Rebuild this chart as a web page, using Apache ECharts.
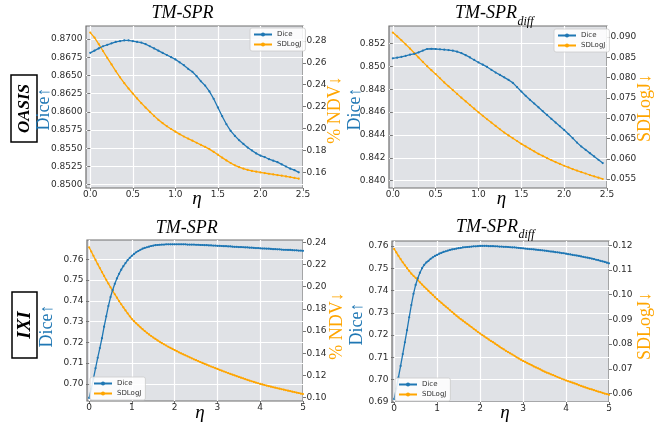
<!DOCTYPE html>
<html><head><meta charset="utf-8">
<script src="https://cdn.jsdelivr.net/npm/echarts@6/dist/echarts.min.js"></script>
<style>html,body{margin:0;padding:0;background:#fff}#c{width:655px;height:428px}</style>
</head><body><div id="c"></div>
<script>
const etaTop = [0,0.05,0.1,0.15,0.2,0.25,0.3,0.35,0.4,0.45,0.5,0.55,0.6,0.65,0.7,0.75,0.8,0.85,0.9,0.95,1,1.05,1.1,1.15,1.2,1.25,1.3,1.35,1.4,1.45,1.5,1.55,1.6,1.65,1.7,1.75,1.8,1.85,1.9,1.95,2,2.05,2.1,2.15,2.2,2.25,2.3,2.35,2.4,2.45];
const etaBot = [0,0.05,0.1,0.15,0.2,0.25,0.3,0.35,0.4,0.45,0.5,0.55,0.6,0.65,0.7,0.75,0.8,0.85,0.9,0.95,1,1.05,1.1,1.15,1.2,1.25,1.3,1.35,1.4,1.45,1.5,1.55,1.6,1.65,1.7,1.75,1.8,1.85,1.9,1.95,2,2.05,2.1,2.15,2.2,2.25,2.3,2.35,2.4,2.45,2.5,2.55,2.6,2.65,2.7,2.75,2.8,2.85,2.9,2.95,3,3.05,3.1,3.15,3.2,3.25,3.3,3.35,3.4,3.45,3.5,3.55,3.6,3.65,3.7,3.75,3.8,3.85,3.9,3.95,4,4.05,4.1,4.15,4.2,4.25,4.3,4.35,4.4,4.45,4.5,4.55,4.6,4.65,4.7,4.75,4.8,4.85,4.9,4.95,5];

const diceOasisSpr = [.8681,.8684,.8687,.8690,.8692,.8694,.8696,.8697,.8698,.8698,
.8697,.8696,.8695,.8693,.8690,.8687,.8684,.8681,.8678,.8675,
.8672,.8668,.8664,.8659,.8655,.8649,.8642,.8636,.8628,.8618,
.8606,.8594,.8583,.8574,.8567,.8561,.8556,.8551,.8547,.8543,
.8540,.8538,.8535,.8533,.8531,.8528,.8525,.8522,.8520,.8517];
const ndvOasisSpr = [.2876,.2830,.2770,.2708,.2646,.2585,.2525,.2468,.2414,.2366,
.2320,.2275,.2232,.2192,.2153,.2116,.2080,.2050,.2022,.1996,
.1972,.1949,.1928,.1909,.1890,.1871,.1852,.1833,.1813,.1788,
.1762,.1735,.1710,.1686,.1665,.1648,.1634,.1623,.1614,.1607,
.1600,.1594,.1588,.1582,.1576,.1570,.1564,.1557,.1550,.1543];
const diceOasisDiff = [.85070,.85076,.85083,.85092,.85102,.85110,.85122,.85138,.85152,.85154,
.85152,.85149,.85146,.85142,.85137,.85128,.85116,.85098,.85078,.85056,
.85034,.85015,.84995,.84970,.84946,.84925,.84904,.84882,.84856,.84818,
.84780,.84743,.84708,.84675,.84642,.84608,.84575,.84541,.84508,.84476,
.84444,.84408,.84372,.84333,.84299,.84270,.84241,.84212,.84183,.84154];
const sdlogjOasisDiff = [.09108,.09015,.08919,.08818,.08715,.08605,.08494,.08387,.08281,.08182,
.08085,.07983,.07881,.07786,.07692,.07598,.07504,.07414,.07324,.07234,
.07145,.07059,.06973,.06891,.06809,.06727,.06645,.06576,.06507,.06437,
.06367,.06306,.06245,.06183,.06122,.06070,.06017,.05968,.05919,.05874,
.05828,.05788,.05747,.05710,.05673,.05637,.05600,.05567,.05534,.05502];
const diceIxiSpr = [.6932,.6975,.7025,.7075,.7125,.7172,.7220,.7275,.7325,.7375,
.7418,.7452,.7482,.7508,.7530,.7550,.7567,.7582,.7596,.7607,
.7617,.7626,.7634,.7640,.7646,.7651,.7655,.7658,.7661,.7664,
.7666,.7668,.7669,.7670,.7671,.7671,.7672,.7672,.7672,.7672,
.7672,.7672,.7672,.7672,.7672,.7672,.7671,.7671,.7671,.7671,
.7670,.7670,.7669,.7669,.7668,.7668,.7667,.7667,.7666,.7666,
.7665,.7665,.7664,.7663,.7663,.7662,.7662,.7661,.7660,.7660,
.7659,.7659,.7658,.7657,.7657,.7656,.7656,.7655,.7654,.7654,
.7653,.7652,.7652,.7651,.7651,.7650,.7649,.7649,.7648,.7648,
.7647,.7646,.7646,.7645,.7645,.7644,.7643,.7643,.7642,.7642,
.7641];
const ndvIxiSpr = [.2355,.2317,.2279,.2241,.2204,.2168,.2132,.2097,.2062,.2028,
.1995,.1963,.1932,.1901,.1871,.1842,.1814,.1786,.1760,.1734,
.1709,.1689,.1670,.1652,.1634,.1617,.1601,.1585,.1570,.1556,
.1542,.1529,.1516,.1504,.1492,.1481,.1470,.1459,.1449,.1439,
.1429,.1419,.1409,.1400,.1391,.1382,.1373,.1364,.1355,.1346,
.1338,.1330,.1321,.1313,.1305,.1297,.1289,.1281,.1274,.1266,
.1259,.1251,.1244,.1236,.1229,.1222,.1215,.1208,.1201,.1194,
.1187,.1180,.1174,.1167,.1161,.1154,.1148,.1142,.1136,.1130,
.1124,.1119,.1114,.1109,.1104,.1099,.1094,.1090,.1085,.1081,
.1076,.1072,.1067,.1063,.1059,.1054,.1050,.1046,.1042,.1037,
.1033];
const diceIxiDiff = [.6913,.6960,.7010,.7062,.7115,.7168,.7222,.7280,.7335,.7385,
.7425,.7455,.7480,.7500,.7515,.7526,.7533,.7542,.7549,.7555,
.7560,.7565,.7569,.7573,.7576,.7579,.7582,.7584,.7586,.7588,
.7590,.7591,.7593,.7594,.7595,.7596,.7597,.7598,.7598,.7599,
.7600,.7600,.7600,.7600,.7599,.7599,.7599,.7598,.7598,.7597,
.7597,.7596,.7596,.7595,.7594,.7593,.7593,.7592,.7591,.7590,
.7589,.7588,.7587,.7586,.7585,.7584,.7583,.7582,.7581,.7580,
.7579,.7578,.7576,.7575,.7574,.7572,.7571,.7570,.7568,.7567,
.7565,.7563,.7562,.7560,.7558,.7557,.7555,.7553,.7551,.7549,
.7547,.7545,.7543,.7541,.7538,.7536,.7533,.7531,.7528,.7525,
.7522];
const sdlogjIxiDiff = [.1185,.1171,.1157,.1144,.1131,.1119,.1107,.1096,.1085,.1076,
.1068,.1059,.1050,.1041,.1032,.1024,.1015,.1007,.0999,.0990,
.0982,.0974,.0967,.0959,.0952,.0945,.0937,.0930,.0922,.0915,
.0908,.0901,.0895,.0888,.0882,.0875,.0869,.0862,.0856,.0849,
.0843,.0837,.0831,.0825,.0819,.0813,.0808,.0802,.0796,.0790,
.0784,.0779,.0773,.0768,.0763,.0758,.0753,.0747,.0742,.0737,
.0732,.0728,.0723,.0719,.0715,.0710,.0706,.0702,.0698,.0693,
.0689,.0685,.0682,.0678,.0675,.0671,.0667,.0664,.0660,.0657,
.0653,.0650,.0647,.0644,.0641,.0638,.0634,.0631,.0628,.0625,
.0622,.0619,.0617,.0614,.0611,.0608,.0606,.0603,.0600,.0598,
.0595];

// tick labels
const xTicksTop = [0,0.5,1,1.5,2,2.5];
const xTicksBot = [0,1,2,3,4,5];
const yTicksL1 = [0.85,0.8525,0.855,0.8575,0.86,0.8625,0.865,0.8675,0.87];
const yTicksR1 = [0.16,0.18,0.20,0.22,0.24,0.26,0.28];
const yTicksL2 = [0.840,0.842,0.844,0.846,0.848,0.850,0.852];
const yTicksR2 = [0.055,0.060,0.065,0.070,0.075,0.080,0.085,0.090];
const yTicksL3 = [0.70,0.71,0.72,0.73,0.74,0.75,0.76];
const yTicksR3 = [0.10,0.12,0.14,0.16,0.18,0.20,0.22,0.24];
const yTicksL4 = [0.69,0.70,0.71,0.72,0.73,0.74,0.75,0.76];
const yTicksR4 = [0.06,0.07,0.08,0.09,0.10,0.11,0.12];

const BLUE = '#1f77b4', ORANGE = '#ffa500';
const SERIF = 'Liberation Serif', SANS = 'DejaVu Sans';

const grids = [
  {left:86, top:26, width:217, height:162},
  {left:389, top:26, width:218, height:162},
  {left:87, top:240, width:216, height:161},
  {left:392, top:241, width:217, height:161}
];
const xr = [[-0.05,2.5],[-0.045,2.5],[-0.05,5],[-0.05,5]];
const xt = [xTicksTop,xTicksTop,xTicksBot,xTicksBot];
const xd = [1,1,0,0];
const yl = [[0.84955,0.87178],[0.83936,0.85353],[0.6917,0.7693],[0.69,0.7622]];
const yr = [[0.1458,0.2936],[0.0528,0.0927],[0.097,0.2421],[0.0566,0.1217]];
const ylt = [yTicksL1,yTicksL2,yTicksL3,yTicksL4];
const yrt = [yTicksR1,yTicksR2,yTicksR3,yTicksR4];
const yld = [4,3,2,2], yrd = [2,3,2,2];

const tickStyle = {show:true, length:3, inside:false, lineStyle:{color:'#555', width:0.8}};
const lblStyle = (d, vals) => ({customValues: vals, color:'#2b2b2b', fontFamily:SANS, fontSize:9, margin:3.5, formatter: v => Number(v).toFixed(d)});

const xAxis = [], yAxis = [];
grids.forEach((g,i)=>{
  xAxis.push({type:'value', gridIndex:i, min:xr[i][0], max:xr[i][1],
    axisLine:{show:false}, axisTick:Object.assign({customValues:xt[i]}, tickStyle),
    axisLabel:Object.assign(lblStyle(xd[i], xt[i]), {margin:2.5}),
    splitLine:{show:true, lineStyle:{color:'#ffffff', width:1.2}}});
  yAxis.push({type:'value', gridIndex:i, position:'left', min:yl[i][0], max:yl[i][1],
    axisLine:{show:false}, axisTick:Object.assign({customValues:ylt[i]}, tickStyle),
    axisLabel:lblStyle(yld[i], ylt[i]),
    splitLine:{show:true, lineStyle:{color:'#ffffff', width:1.2}}});
  yAxis.push({type:'value', gridIndex:i, position:'right', min:yr[i][0], max:yr[i][1],
    axisLine:{show:false}, axisTick:Object.assign({customValues:yrt[i]}, tickStyle),
    axisLabel:lblStyle(yrd[i], yrt[i]),
    splitLine:{show:false}});
});

function pairs(xs, ys){ return xs.map((x,k)=>[x, ys[k]]); }
const seriesData = [
  [etaTop, diceOasisSpr, ndvOasisSpr],
  [etaTop, diceOasisDiff, sdlogjOasisDiff],
  [etaBot, diceIxiSpr, ndvIxiSpr],
  [etaBot, diceIxiDiff, sdlogjIxiDiff]
];
const series = [];
seriesData.forEach((s,i)=>{
  series.push({type:'line', name:'Dice', xAxisIndex:i, yAxisIndex:2*i, data:pairs(s[0], s[1]),
    symbol:'circle', symbolSize:2.2, showSymbol:true, color:BLUE, lineStyle:{width:1.3, color:BLUE}, itemStyle:{color:BLUE}, z:3});
  series.push({type:'line', name:'SDLogJ', xAxisIndex:i, yAxisIndex:2*i+1, data:pairs(s[0], s[2]),
    symbol:'circle', symbolSize:2.2, showSymbol:true, color:ORANGE, lineStyle:{width:1.3, color:ORANGE}, itemStyle:{color:ORANGE}, z:2});
});

const legPos = [{left:250, top:28},{left:554, top:29},{left:90, top:377},{left:395, top:378}];
const legend = legPos.map(p => Object.assign({
  data:['Dice','SDLogJ'], orient:'vertical', itemWidth:18, itemHeight:5, itemGap:3,
  padding:[3,4,3,3], backgroundColor:'rgba(255,255,255,0.85)', borderColor:'#cccccc', borderWidth:0.8, borderRadius:2,
  textStyle:{fontSize:7, fontFamily:SANS, color:'#333'}, selectedMode:false
}, p));

function txt(x,y,text,opt){
  return {type:'text', x:x, y:y, rotation:opt.rot||0, silent:true, z:100,
    style:{text:text, fill:opt.color||'#000', font:(opt.style||'')+' '+(opt.weight||'')+' '+opt.size+'px "'+(opt.family||SERIF)+'"', align:opt.align||'center', verticalAlign:opt.va||'middle'}};
}
const R = Math.PI/2;
const graphic = [
  // titles
  txt(182.5, 13, 'TM-SPR', {style:'italic', size:18}),
  txt(517, 13, 'TM-SPR', {style:'italic', size:18, align:'right'}),
  txt(517.5, 21.5, 'diff', {style:'italic', size:12, align:'left'}),
  txt(186.7, 228, 'TM-SPR', {style:'italic', size:18}),
  txt(518, 227, 'TM-SPR', {style:'italic', size:18, align:'right'}),
  txt(518.5, 235, 'diff', {style:'italic', size:12, align:'left'}),
  // eta
  txt(197, 199, 'η', {style:'italic', size:19}),
  txt(501.5, 199, 'η', {style:'italic', size:19}),
  txt(200, 413, 'η', {style:'italic', size:19}),
  txt(505, 413, 'η', {style:'italic', size:19}),
  // y names
  txt(44, 109, 'Dice↑', {size:18, color:BLUE, rot:R}),
  txt(335, 110, '% NDV↓', {size:18, color:ORANGE, rot:R}),
  txt(355, 109, 'Dice↑', {size:18, color:BLUE, rot:R}),
  txt(645, 108, 'SDLogJ↓', {size:18, color:ORANGE, rot:R}),
  txt(47, 326, 'Dice↑', {size:18, color:BLUE, rot:R}),
  txt(337, 326, '% NDV↓', {size:18, color:ORANGE, rot:R}),
  txt(357, 324, 'Dice↑', {size:18, color:BLUE, rot:R}),
  txt(645, 326, 'SDLogJ↓', {size:18, color:ORANGE, rot:R}),
  // dataset boxes
  {type:'rect', shape:{x:11, y:75, width:26, height:67}, style:{fill:'#fff', stroke:'#000', lineWidth:1.5}, silent:true, z:99},
  txt(24.5, 108.5, 'OASIS', {style:'italic', weight:'bold', size:17, rot:R}),
  {type:'rect', shape:{x:12, y:292, width:25, height:66}, style:{fill:'#fff', stroke:'#000', lineWidth:1.5}, silent:true, z:99},
  txt(25, 325, 'IXI', {style:'italic', weight:'bold', size:19, rot:R})
];

const chart = echarts.init(document.getElementById('c'), null, {renderer:'canvas'});
chart.setOption({
  animation:false,
  backgroundColor:'#ffffff',
  grid: grids.map(g => Object.assign({show:true, backgroundColor:'#e0e2e6', borderColor:'#6e6e6e', borderWidth:1.2, containLabel:false}, g)),
  xAxis, yAxis, series, legend, graphic
});
</script></body></html>
